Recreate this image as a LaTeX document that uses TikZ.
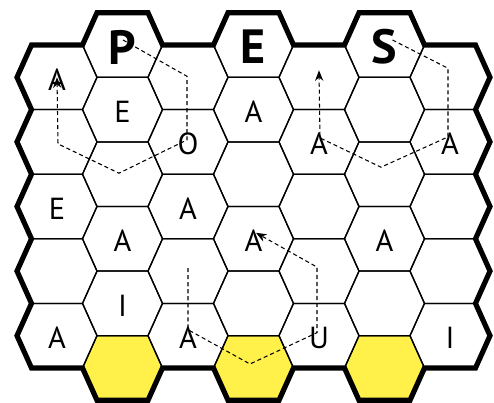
\documentclass[tikz,border=0pt]{standalone}
\usepackage{fontspec}
\setmainfont{PT Sans}
\usetikzlibrary{arrows.meta}

\definecolor{goalyellow}{RGB}{255,241,74}

\begin{document}
\begin{tikzpicture}[
    x=0.03cm,
    y=-0.03cm,
    cell/.style={
        draw=black,
        line width=1.1pt
    },
    goal cell/.style={
        fill=goalyellow
    },
    rim/.style={
        draw=black,
        line width=4.4pt,
        line join=miter
    },
    letter/.style={
        inner sep=0pt,
        yshift=-1.8pt,
        font=\fontsize{26}{26}\selectfont
    },
    title letter/.style={
        letter,
        font=\fontsize{41}{41}\selectfont\bfseries
    },
    route/.style={
        dash pattern=on 3.5pt off 2.5pt,
        line width=0.9pt
    },
    route arrow/.style={
        route,
        -{Stealth[length=9pt,width=7pt]}
    }
]

\def\colsep{65.5}
\def\rowsep{64.6}
\def\hexslant{14.5}
\def\hexedge{51}
\def\hexhalf{32.3}

\useasboundingbox (0,0) rectangle (494,403);

%% --- Centres des cases ---
\foreach \c in {0,...,6}{
    \pgfmathtruncatemacro\isodd{mod(\c,2)}
    \ifnum\isodd=1 \def\lastrow{5}\def\firsty{45}\else \def\lastrow{4}\def\firsty{77.3}\fi
    \foreach \r in {0,...,\lastrow}{
        \coordinate (h-\c-\r) at ({57+\colsep*\c}, {\firsty+\rowsep*\r});
    }
}

%% --- Cases d'arrivee ---
\foreach \c in {1,3,5}{
    \fill[goal cell] (h-\c-5) ++(-40,0) -- ++(\hexslant,-\hexhalf) -- ++(\hexedge,0)
        -- ++(\hexslant,\hexhalf) -- ++(-\hexslant,\hexhalf) -- ++(-\hexedge,0) -- cycle;
}

%% --- Grille ---
\foreach \c in {0,...,6}{
    \pgfmathtruncatemacro\isodd{mod(\c,2)}
    \ifnum\isodd=1 \def\lastrow{5}\else \def\lastrow{4}\fi
    \foreach \r in {0,...,\lastrow}{
        \draw[cell] (h-\c-\r) ++(-40,0) -- ++(\hexslant,-\hexhalf) -- ++(\hexedge,0)
            -- ++(\hexslant,\hexhalf) -- ++(-\hexslant,\hexhalf) -- ++(-\hexedge,0) -- cycle;
    }
}

%% --- Bord ---
\draw[rim] (h-0-0) ++(-40,0)
    -- ++(\hexslant,-\hexhalf) -- ++(\hexedge,0)
    -- ++(\hexslant,-\hexhalf) -- ++(\hexedge,0) -- ++(\hexslant,\hexhalf)
    -- ++(\hexedge,0)
    -- ++(\hexslant,-\hexhalf) -- ++(\hexedge,0) -- ++(\hexslant,\hexhalf)
    -- ++(\hexedge,0)
    -- ++(\hexslant,-\hexhalf) -- ++(\hexedge,0) -- ++(\hexslant,\hexhalf)
    -- ++(\hexedge,0) -- ++(\hexslant,\hexhalf)
    -- ++(-\hexslant,\hexhalf) -- ++(\hexslant,\hexhalf)
    -- ++(-\hexslant,\hexhalf) -- ++(\hexslant,\hexhalf)
    -- ++(-\hexslant,\hexhalf) -- ++(\hexslant,\hexhalf)
    -- ++(-\hexslant,\hexhalf) -- ++(\hexslant,\hexhalf)
    -- ++(-\hexslant,\hexhalf)
    -- ++(-\hexedge,0)
    -- ++(-\hexslant,\hexhalf) -- ++(-\hexedge,0) -- ++(-\hexslant,-\hexhalf)
    -- ++(-\hexedge,0)
    -- ++(-\hexslant,\hexhalf) -- ++(-\hexedge,0) -- ++(-\hexslant,-\hexhalf)
    -- ++(-\hexedge,0)
    -- ++(-\hexslant,\hexhalf) -- ++(-\hexedge,0) -- ++(-\hexslant,-\hexhalf)
    -- ++(-\hexedge,0)
    -- ++(-\hexslant,-\hexhalf) -- ++(\hexslant,-\hexhalf)
    -- ++(-\hexslant,-\hexhalf) -- ++(\hexslant,-\hexhalf)
    -- ++(-\hexslant,-\hexhalf) -- ++(\hexslant,-\hexhalf)
    -- ++(-\hexslant,-\hexhalf) -- ++(\hexslant,-\hexhalf)
    -- cycle;

%% --- Lettres ---
\node[title letter] (P) at (h-1-0) {P};
\node[title letter] (E) at (h-3-0) {E};
\node[title letter] (S) at (h-5-0) {S};

\node[letter] (l-0-0) at (h-0-0) {A};
\node[letter] (l-1-1) at (h-1-1) {E};
\node[letter] (l-2-1) at (h-2-1) {O};
\node[letter] (l-3-1) at (h-3-1) {A};
\node[letter] (l-4-1) at (h-4-1) {A};
\node[letter] (l-6-1) at (h-6-1) {A};
\node[letter] (l-0-2) at (h-0-2) {E};
\node[letter] (l-2-2) at (h-2-2) {A};
\node[letter] (l-1-3) at (h-1-3) {A};
\node[letter] (l-3-3) at (h-3-3) {A};
\node[letter] (l-5-3) at (h-5-3) {A};
\node[letter] (l-1-4) at (h-1-4) {I};
\node[letter] (l-0-4) at (h-0-4) {A};
\node[letter] (l-2-4) at (h-2-4) {A};
\node[letter] (l-4-4) at (h-4-4) {U};
\node[letter] (l-6-4) at (h-6-4) {I};

%% --- Chemins ---
\draw[route arrow] ([shift={(0.5,-5)}]h-1-0) -- ([shift={(-1,-1)}]h-2-0)
    -- ([shift={(-1,-2)}]h-2-1) -- ([shift={(-3.5,-1)}]h-1-2)
    -- ([shift={(1,2)}]h-0-1) -- (h-0-0);
\draw[route arrow] ([shift={(8,-5)}]h-5-0) -- ([shift={(-2,-9)}]h-6-0)
    -- ([shift={(-2,-5)}]h-6-1) -- ([shift={(-3.5,-7)}]h-5-2)
    -- ([shift={(1,-4)}]h-4-1) -- ([shift={(0,-7)}]h-4-0);
\draw[route arrow] ([shift={(0,-3)}]h-2-3) -- ([shift={(0,-6)}]h-2-4)
    -- ([shift={(-3.5,-4)}]h-3-5) -- ([shift={(-2,-3)}]h-4-4)
    -- ([shift={(-2,-4)}]h-4-3) -- ([shift={(2.5,-6)}]h-3-3);

\end{tikzpicture}
\end{document}
